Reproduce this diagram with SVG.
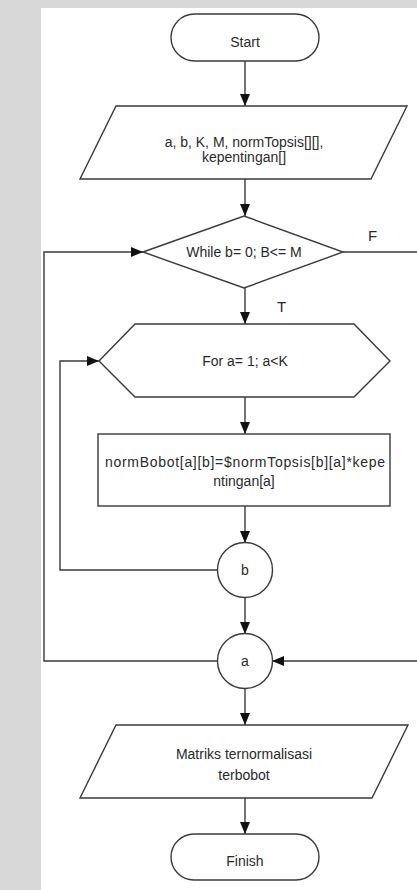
<svg xmlns="http://www.w3.org/2000/svg" width="417" height="890" viewBox="0 0 417 890">
  <style>
    .shape { fill: #ffffff; stroke: #3a3a3a; stroke-width: 1.4; }
    .line { fill: none; stroke: #3a3a3a; stroke-width: 1.4; }
    .label { font-family: "Liberation Sans", Arial, sans-serif; font-size: 14px; fill: #2a2a2a; text-anchor: middle; }
    .tag { font-family: "Liberation Sans", Arial, sans-serif; font-size: 15px; fill: #2a2a2a; }
  </style>
  <defs>
    <marker id="arrow" viewBox="0 0 12 10" refX="12" refY="5" markerWidth="12" markerHeight="10" markerUnits="userSpaceOnUse" orient="auto">
      <path d="M0,0 L12,5 L0,10 Z" fill="#111111"/>
    </marker>
  </defs>

  <!-- page backdrop -->
  <rect x="0" y="0" width="417" height="890" fill="#d8d8d8"/>
  <rect x="41" y="8" width="376" height="882" fill="#ffffff"/>

  <!-- connectors -->
  <g id="connectors">
    <path class="line" d="M245,61 V106" marker-end="url(#arrow)"/>
    <path class="line" d="M245,179 V216" marker-end="url(#arrow)"/>
    <path class="line" d="M245,288 V324" marker-end="url(#arrow)"/>
    <path class="line" d="M245,397 V434" marker-end="url(#arrow)"/>
    <path class="line" d="M245,506 V543" marker-end="url(#arrow)"/>
    <path class="line" d="M245,598 V634" marker-end="url(#arrow)"/>
    <path class="line" d="M245,688 V725" marker-end="url(#arrow)"/>
    <path class="line" d="M245,798 V834" marker-end="url(#arrow)"/>
    <!-- inner loop back to the for step -->
    <path class="line" d="M217.5,570 H60 V361 H99" marker-end="url(#arrow)"/>
    <!-- outer loop back to the while test -->
    <path class="line" d="M218,661 H44 V252 H143" marker-end="url(#arrow)"/>
    <!-- false exit of the while test -->
    <path class="line" d="M343,252 H420 V661 H272" marker-end="url(#arrow)"/>
    <text class="tag" x="368" y="241">F</text>
    <text class="tag" x="277" y="312">T</text>
  </g>

  <g id="start">
    <rect class="shape" x="171" y="14" width="148" height="47" rx="23.5"/>
    <text class="label" x="245" y="47">Start</text>
  </g>

  <g id="input">
    <polygon class="shape" points="116,106 407,106 371,179 80,179"/>
    <text class="label" x="244" y="147">a, b, K, M, normTopsis[][],</text>
    <text class="label" x="244" y="162">kepentingan[]</text>
  </g>

  <g id="while">
    <polygon class="shape" points="143,252 244,216 343,252 244,288"/>
    <text class="label" x="244" y="257">While b= 0; B&lt;= M</text>
  </g>

  <g id="for">
    <polygon class="shape" points="99,361 135,324 354,324 390,361 354,397 135,397"/>
    <text class="label" x="245" y="366">For a= 1; a&lt;K</text>
  </g>

  <g id="process">
    <rect class="shape" x="98" y="434" width="292" height="72"/>
    <text class="label" x="245" y="467" textLength="280" lengthAdjust="spacing">normBobot[a][b]=$normTopsis[b][a]*kepe</text>
    <text class="label" x="244" y="486">ntingan[a]</text>
  </g>

  <g id="connector-b">
    <circle class="shape" cx="245" cy="570" r="27.5"/>
    <text class="label" x="245" y="575">b</text>
  </g>

  <g id="connector-a">
    <circle class="shape" cx="245" cy="661" r="27.5"/>
    <text class="label" x="245" y="666">a</text>
  </g>

  <g id="output">
    <polygon class="shape" points="116,725 408,725 372,798 80,798"/>
    <text class="label" x="244" y="759">Matriks ternormalisasi</text>
    <text class="label" x="244" y="780">terbobot</text>
  </g>

  <g id="finish">
    <rect class="shape" x="171" y="834" width="148" height="46" rx="23"/>
    <text class="label" x="245" y="866">Finish</text>
  </g>
</svg>
